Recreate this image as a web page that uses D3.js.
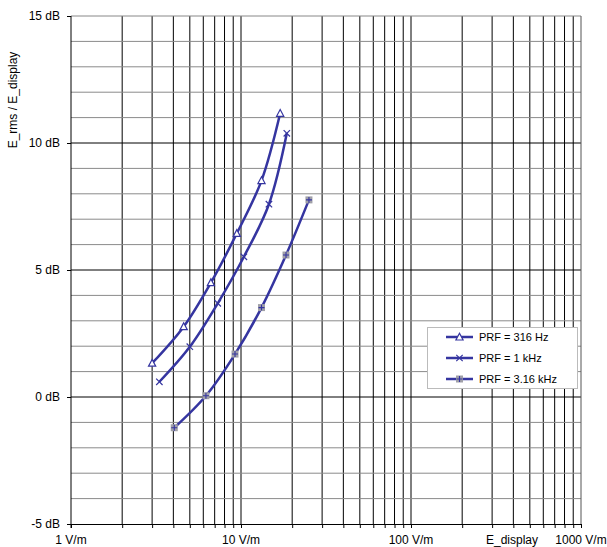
<!DOCTYPE html>
<html><head><meta charset="utf-8">
<script src="https://cdn.jsdelivr.net/npm/d3@7"></script>
<style>body{margin:0;background:#fff}svg{display:block}text{font-family:"Liberation Sans",Arial,sans-serif;font-size:12px;fill:#000}</style>
</head><body>
<svg id="c" width="607" height="547"></svg>
<script>
const seriesNames = ["PRF = 316 Hz", "PRF = 1 kHz", "PRF = 3.16 kHz"];
const s316x = [3.0, 4.6, 6.65, 9.45, 13.2, 17.0];
const s316y = [1.33, 2.77, 4.5, 6.44, 8.52, 11.17];
const s1kx = [3.31, 5.0, 7.3, 10.4, 14.6, 18.6];
const s1ky = [0.6, 1.98, 3.69, 5.52, 7.59, 10.38];
const s3kx = [4.05, 6.22, 9.22, 13.2, 18.4, 25.1];
const s3ky = [-1.21, 0.05, 1.69, 3.52, 5.59, 7.76];
const yTicks = [-5, 0, 5, 10, 15];
const yTickLabels = ["-5 dB", "0 dB", "5 dB", "10 dB", "15 dB"];
const xTicks = [1, 10, 100, 1000];
const xTickLabels = ["1 V/m", "10 V/m", "100 V/m", "1000 V/m"];
const xTitle = "E_display";
const yTitle = "E_rms / E_display";

const svg = d3.select("#c");
const L = 71, R = 581, T = 16, B = 524;
const x = d3.scaleLog().domain([1, 1000]).range([L, R]);
const y = d3.scaleLinear().domain([-5, 15]).range([B, T]);
const blue = "#3535a0";

// vertical log grid
const vgrid = [];
for (let d = 1; d < 1000; d *= 10) for (let k = 1; k <= 9; k++) vgrid.push(d * k);
vgrid.push(1000);
svg.append("g").selectAll("line").data(vgrid.filter(v => v > 1 && v < 1000)).join("line")
  .attr("x1", d => x(d)).attr("x2", d => x(d)).attr("y1", T).attr("y2", B)
  .attr("stroke", "#000").attr("stroke-width", 1);
// horizontal grid
const hgrid = d3.range(-4, 15);
svg.append("g").selectAll("line").data(hgrid).join("line")
  .attr("x1", L).attr("x2", R).attr("y1", d => y(d)).attr("y2", d => y(d))
  .attr("stroke", d => d % 5 === 0 ? "#000" : "#8a8a8a").attr("stroke-width", 1);
// border top/right
svg.append("line").attr("x1", L).attr("x2", R).attr("y1", T).attr("y2", T).attr("stroke", "#888");
svg.append("line").attr("x1", R).attr("x2", R).attr("y1", T).attr("y2", B).attr("stroke", "#555");

// axes
const xAxis = d3.axisBottom(x).tickValues(vgrid).tickFormat("").tickSize(4).tickSizeOuter(0);
const gx = svg.append("g").attr("transform", `translate(0,${B})`).call(xAxis);
gx.selectAll("path,line").attr("stroke", "#000");
const yAxis = d3.axisLeft(y).tickValues(yTicks).tickFormat("").tickSize(4).tickSizeOuter(0);
const gy = svg.append("g").attr("transform", `translate(${L},0)`).call(yAxis);
gy.selectAll("path,line").attr("stroke", "#000");
gy.select("path").attr("d", `M0,${T}V${B + 4}`);

svg.append("g").selectAll("text").data(yTicks).join("text")
  .attr("x", 60).attr("y", d => y(d)).attr("dy", "0.35em").attr("text-anchor", "end")
  .text((d, i) => yTickLabels[i]);
svg.append("g").selectAll("text").data(xTicks).join("text")
  .attr("x", d => x(d)).attr("y", 544).attr("text-anchor", "middle")
  .text((d, i) => xTickLabels[i]);
svg.append("text").attr("x", 512).attr("y", 544).attr("text-anchor", "middle").text(xTitle);
svg.append("text").attr("transform", "translate(17,100) rotate(-90)").attr("text-anchor", "middle").text(yTitle);

// series
const series = [
  {xs: s316x, ys: s316y, m: "tri"},
  {xs: s1kx, ys: s1ky, m: "x"},
  {xs: s3kx, ys: s3ky, m: "sq"}
];
const line = d3.line().x(d => x(d[0])).y(d => y(d[1])).curve(d3.curveCatmullRom.alpha(0.5));
function marker(g, type, cx, cy) {
  if (type === "tri") {
    g.append("path").attr("d", `M${cx},${cy - 3.8}L${cx + 3.6},${cy + 3}L${cx - 3.6},${cy + 3}Z`)
      .attr("fill", "#fff").attr("stroke", blue).attr("stroke-width", 1.2);
  } else if (type === "x") {
    g.append("path").attr("d", `M${cx - 3.2},${cy - 3.2}L${cx + 3.2},${cy + 3.2}M${cx + 3.2},${cy - 3.2}L${cx - 3.2},${cy + 3.2}`)
      .attr("stroke", blue).attr("stroke-width", 1.2).attr("fill", "none");
  } else {
    g.append("rect").attr("x", cx - 3.5).attr("y", cy - 3.5).attr("width", 7).attr("height", 7).attr("fill", "#a0a0a8");
    g.append("path").attr("d", `M${cx - 3},${cy}H${cx + 3}M${cx},${cy - 3}V${cy + 3}`)
      .attr("stroke", blue).attr("stroke-width", 1.1);
  }
}
series.forEach(s => {
  const pts = s.xs.map((v, i) => [v, s.ys[i]]);
  svg.append("path").datum(pts).attr("d", line).attr("fill", "none").attr("stroke", blue).attr("stroke-width", 2.5);
  const g = svg.append("g");
  pts.forEach(p => marker(g, s.m, x(p[0]), y(p[1])));
});

// legend
const lg = svg.append("g");
lg.append("rect").attr("x", 427.5).attr("y", 327.5).attr("width", 150).attr("height", 61)
  .attr("fill", "#fff").attr("stroke", "#bbb");
seriesNames.forEach((n, i) => {
  const ly = 337 + i * 21;
  lg.append("line").attr("x1", 446).attr("x2", 473).attr("y1", ly).attr("y2", ly).attr("stroke", blue).attr("stroke-width", 2.5);
  marker(lg, series[i].m, 459.5, ly);
  lg.append("text").attr("x", 479).attr("y", ly).attr("dy", "0.35em").style("font-size", "11px").text(n);
});
</script>
</body></html>
